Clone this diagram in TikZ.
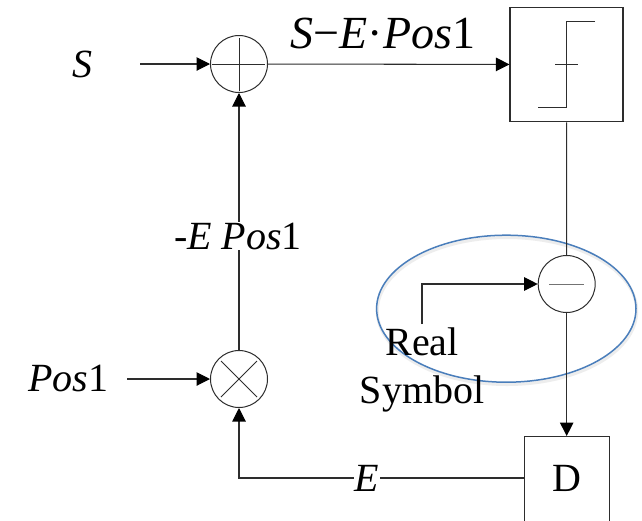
\documentclass[tikz,border=0pt]{standalone}
\usepackage{fontspec}
\setmainfont{Liberation Serif}
\usetikzlibrary{arrows.meta,positioning}
\definecolor{linegray}{RGB}{45,45,45}
\definecolor{ringblue}{RGB}{74,126,187}
\tikzset{
  wire/.style={draw=linegray,line width=1.05pt},
  arrowwire/.style={wire,-{Triangle[length=13.5pt,width=13.5pt,color=black]}},
  junction/.style={circle,draw=linegray,line width=1pt,minimum size=57pt,inner sep=0pt},
  block/.style={rectangle,draw=linegray,line width=1.1pt,inner sep=0pt},
  mark line/.style={draw=linegray,line width=1pt},
  lab/.style={inner sep=0pt,anchor=base,font=\fontsize{40}{48}\selectfont},
  biglab/.style={inner sep=0pt,anchor=base,font=\fontsize{46}{52}\selectfont},
  gaplab/.style={lab,fill=white,inner sep=1pt}
}
\begin{document}
\begin{tikzpicture}[x=1pt,y=-1pt]
\useasboundingbox (0,0) rectangle (642,520);
\clip (0,0) rectangle (642,520);
\fill[white] (0,0) rectangle (642,520);
% nodes
\node[junction] (add) at (239,64) {};
\node[junction] (mul) at (239,379) {};
\node[junction] (sub) at (566.7,284) {};
\node[block,minimum width=113pt,minimum height=114.5pt] (sgn) at (566.5,64.5) {};
\node[block,minimum width=85pt,minimum height=100pt,anchor=north] (dec) at (566.7,436) {};
\coordinate (sstart) at (140,64);
\coordinate (pstart) at (127,379);
\coordinate (rstart) at (422,324);
% ellipse
\draw[black!7,line width=3pt] (507,311) ellipse [x radius=129.7pt,y radius=73.5pt];
\draw[ringblue,line width=1.5pt] (506.3,308.7) ellipse [x radius=129.7pt,y radius=73.5pt];
% connectors
\draw[arrowwire] (sstart) -- (add);
\draw[arrowwire] (add) -- (sgn);
\draw[wire] (sgn) -- (sub);
\draw[arrowwire] (sub) -- (dec);
\draw[arrowwire] (rstart) |- (sub);
\draw[arrowwire] (mul) -- (add);
\draw[arrowwire] (pstart) -- (mul);
\draw[arrowwire] (dec.west |- 0,478) -| (mul);
% junction marks
\draw[mark line] (239,38) -- (239,90.7) (212,64) -- (265,64);
\draw[mark line] (221,361) -- (257,397) (221,397) -- (257,361);
\draw[mark line,draw=black!55] (549,284) -- (584,284);
% step symbol
\draw[mark line] (595,21) -- (566.7,21) -- (566.7,107) -- (538,107);
\draw[mark line] (555,64) -- (578,64);
% labels
\node[lab] (ls) at (82,77.5) {\textit{S}};
\node[biglab] (ltop) at (383,48) {\textit{S}−\textit{E}·\textit{Pos}1};
\node[gaplab,anchor=base] (lepos) at (238,249) {-\textit{E Pos}1};
\node[lab] (lpos) at (68,391) {\textit{Pos}1};
\node[gaplab,anchor=base] (le) at (367,491) {\textit{E}};
\node[lab] (ld) at (566.7,491) {D};
\node[lab] (lreal) at (422,355) {Real};
\node[lab] (lsym) at (422,403) {Symbol};
\end{tikzpicture}
\end{document}
